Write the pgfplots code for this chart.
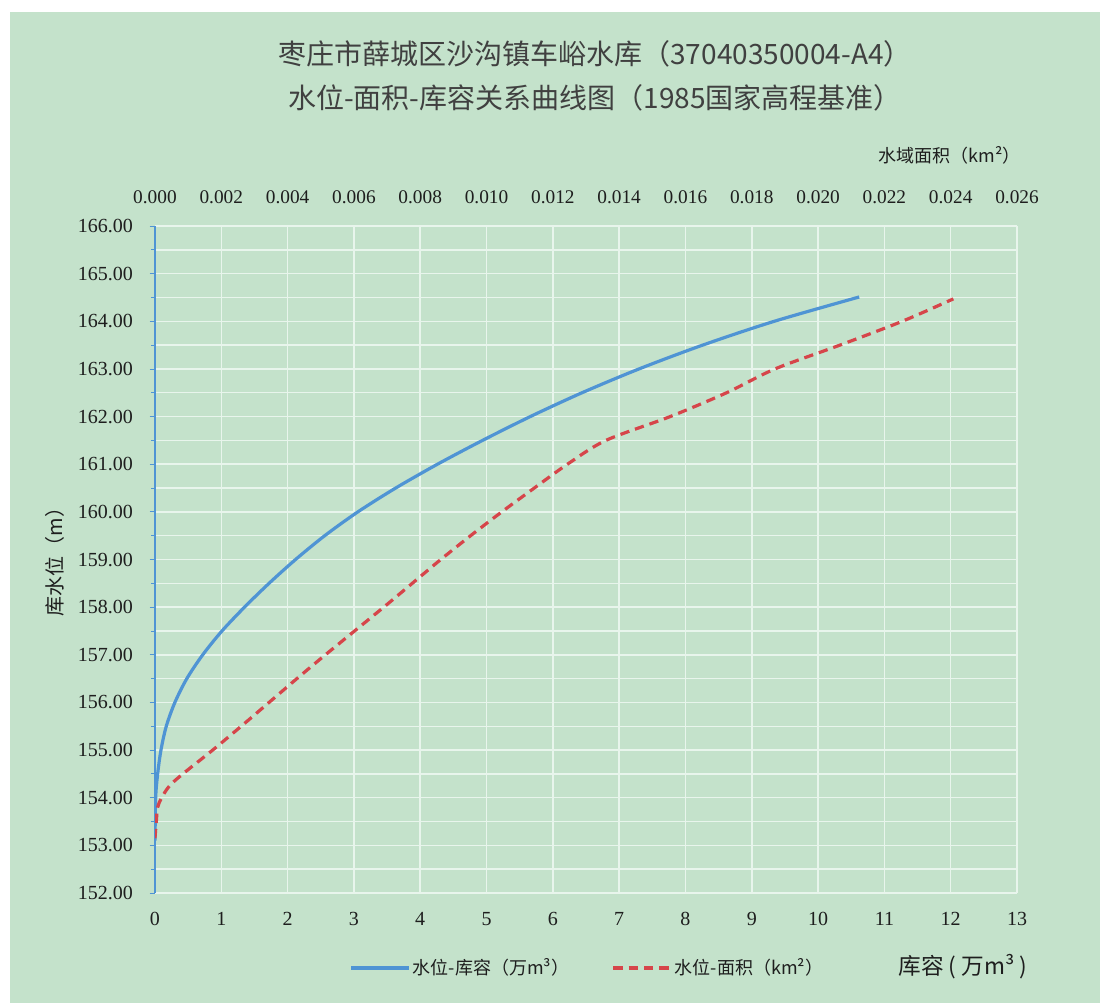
\documentclass[border=0pt]{standalone}
\usepackage{fontspec}
\setmainfont{Liberation Serif}
\newfontfamily\cjk{Noto Sans CJK SC}
\usepackage{pgfplots}
\pgfplotsset{compat=1.18}
\usetikzlibrary{backgrounds}

\definecolor{bg}{RGB}{196,226,203}
\definecolor{gridc}{RGB}{232,245,236}
\definecolor{lblue}{RGB}{79,148,212}
\definecolor{lred}{RGB}{214,69,74}
\definecolor{txt}{RGB}{30,30,30}

% water level - storage (10^4 m3)
\pgfplotstableread{
vol    lev
0.00   153.10
0.01   154.00
0.04   154.50
0.09   155.00
0.17   155.50
0.30   156.00
0.48   156.50
0.72   157.00
1.01   157.50
1.35   158.00
1.72   158.50
2.12   159.00
2.56   159.50
3.06   160.00
3.63   160.50
4.26   161.00
4.94   161.50
5.66   162.00
6.44   162.50
7.30   163.00
8.26   163.50
9.34   164.00
10.62  164.51
}\storage

% water level - surface area (km2)
\pgfplotstableread{
area     lev
0.00000  153.15
0.00004  153.50
0.00008  153.80
0.00020  154.00
0.00044  154.25
0.00084  154.50
0.00174  155.00
0.00260  155.50
0.00344  156.00
0.00428  156.50
0.00514  157.00
0.00602  157.50
0.00690  158.00
0.00776  158.50
0.00862  159.00
0.00952  159.50
0.01046  160.00
0.01144  160.50
0.01244  161.00
0.01360  161.50
0.01554  162.00
0.01724  162.50
0.01870  163.00
0.02066  163.50
0.02254  164.00
0.02408  164.47
}\surface

\begin{document}
\begin{tikzpicture}

%%%%%%%%%%%%%%%% main axis: storage on the bottom %%%%%%%%%%%%%%%%
\begin{axis}[name=main, at={(0,0)}, anchor=south west,
width=646.5pt, height=500.25pt, scale only axis,
xmin=0, xmax=13, ymin=152, ymax=166,
xtick={0,1,...,13}, ytick={152,153,...,166},
minor y tick num=1,
xmajorgrids=true, ymajorgrids=true, yminorgrids=true,
major grid style={gridc, line width=1.1pt},
minor grid style={gridc, line width=1.1pt},
axis x line*=bottom, axis y line*=left,
x axis line style={draw=none},
y axis line style={draw=lblue, line width=0.8pt},
xtick style={draw=none},
ytick style={draw=lblue, line width=0.6pt},
tick align=outside, major tick length=4pt, minor tick length=3pt,
/pgf/number format/assume math mode=true,
yticklabel style={/pgf/number format/fixed, /pgf/number format/fixed zerofill,
  /pgf/number format/precision=2, font=\fontsize{15}{17}\selectfont, text=txt, xshift=-9pt},
xticklabel style={font=\fontsize{15}{17}\selectfont, text=txt, yshift=-7pt},
]
\addplot[lblue, line width=2.4pt, smooth] table[x=vol, y=lev] {\storage};
\end{axis}

%%%%%%%%%%%%%%%% second axis: surface area on the top %%%%%%%%%%%%%%%%
\begin{axis}[at={(0,0)}, anchor=south west,
width=646.5pt, height=500.25pt, scale only axis,
xmin=0, xmax=0.026, ymin=152, ymax=166,
axis x line*=top, axis y line=none,
x axis line style={draw=none}, xtick style={draw=none},
xtick={0,0.002,0.004,0.006,0.008,0.010,0.012,0.014,0.016,0.018,0.020,0.022,0.024,0.026},
scaled x ticks=false,
/pgf/number format/assume math mode=true,
xticklabel style={/pgf/number format/fixed, /pgf/number format/fixed zerofill,
  /pgf/number format/precision=3, font=\fontsize{14.5}{17}\selectfont, text=txt, yshift=13pt},
legend style={draw=none, fill=none, at={(axis description cs:0.502,-0.1124)}, anchor=center,
  font=\cjk\fontsize{13.5}{16}\selectfont, text=txt,
  /tikz/every even column/.append style={column sep=30pt}},
legend columns=2,
legend image code/.code={\draw[#1] (0pt,0pt) -- (43pt,0pt);},
]
\addlegendimage{lblue, line width=2.4pt}
\addlegendentry{水位-库容（万m³）}
\addplot[lred, line width=2.4pt, dash pattern=on 7pt off 4.5pt, smooth] table[x=area, y=lev] {\surface};
\addlegendentry{水位-面积（km²）}
\end{axis}

%%%%%%%%%%%%%%%% titles and labels %%%%%%%%%%%%%%%%
\node[font=\cjk\fontsize{21}{25}\selectfont, text=txt!85] at (330pt,629.5pt) {枣庄市薛城区沙沟镇车峪水库（37040350004-A4）};
\node[font=\cjk\fontsize{21}{25}\selectfont, text=txt!85] at (330pt,596pt) {水位-面积-库容关系曲线图（1985国家高程基准）};
\node[font=\cjk\fontsize{13.5}{16}\selectfont, text=txt] at (596pt,553.5pt) {水域面积（km²）};
\node[font=\cjk\fontsize{17}{20}\selectfont, text=txt] at (606pt,-55pt) {库容 ( 万m³ )};
\node[font=\cjk\fontsize{15}{18}\selectfont, text=txt, rotate=90] at (-75pt,252pt) {库水位（m）};

%%%%%%%%%%%%%%%% page background %%%%%%%%%%%%%%%%
\begin{scope}[on background layer]
\fill[white] (-116.25pt,-82.5pt) rectangle (713.25pt,669.75pt);
\fill[bg] (-108.75pt,-82.5pt) rectangle (708.75pt,660.75pt);
\end{scope}

\end{tikzpicture}
\end{document}
